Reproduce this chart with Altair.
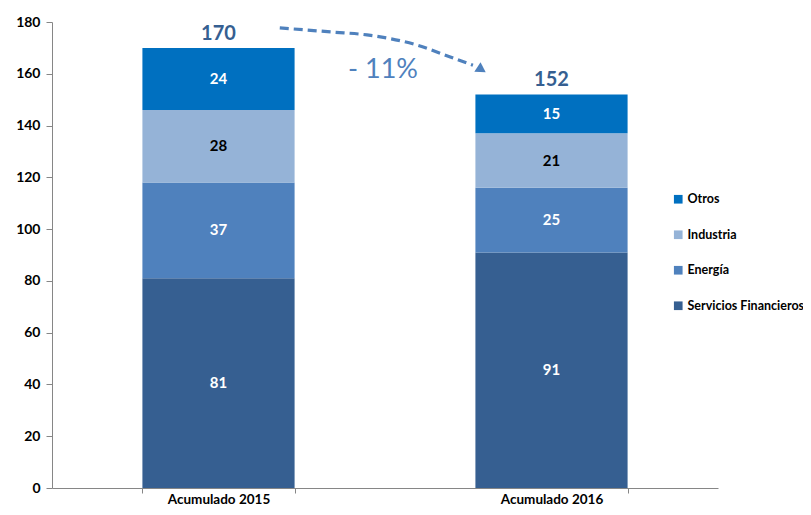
import altair as alt
import pandas as pd

categories = ["Acumulado 2015", "Acumulado 2016"]
sectors = ["Servicios Financieros", "Energía", "Industria", "Otros"]
values_2015 = [81, 37, 28, 24]
values_2016 = [91, 25, 21, 15]
totals = [170, 152]
colors = ["#0070C0", "#95B3D7", "#4F81BD", "#365F91"]  # Otros, Industria, Energía, SF
legend_order = ["Otros", "Industria", "Energía", "Servicios Financieros"]
label_colors = {"Servicios Financieros": "white", "Energía": "white", "Industria": "black", "Otros": "white"}

# annotation arrow (x as fraction of plot width, y in data units)
arrow_x = [0.342, 0.422, 0.473, 0.548, 0.598, 0.632]
arrow_y = [177.7, 176.1, 175.0, 171.1, 166.5, 163.3]
head_x = [0.645]
head_y = [161.6]
change_label = "- 11%"
change_x = [0.497]
change_y = [161.5]

rows = []
for cat, vals in zip(categories, [values_2015, values_2016]):
    for i, (s, v) in enumerate(zip(sectors, vals)):
        rows.append({"cat": cat, "sector": s, "value": v, "ord": i, "lc": label_colors[s]})
df = pd.DataFrame(rows)
tot_df = pd.DataFrame({"cat": categories, "total": totals})
arrow_df = pd.DataFrame({"fx": arrow_x, "fy": arrow_y, "i": range(len(arrow_x))})
head_df = pd.DataFrame({"fx": head_x, "fy": head_y})
lbl_df = pd.DataFrame({"fx": change_x, "fy": change_y, "t": [change_label]})

FONT = "Lato"

xscale = alt.Scale(domain=categories, paddingInner=0.543, paddingOuter=0.2715)
xaxis = alt.Axis(labelAngle=0, labelFont=FONT, labelFontWeight="bold", labelFontSize=13.5,
                 labelColor="black", labelPadding=-1, tickBand="extent", tickSize=5,
                 tickColor="#868686", domainColor="#868686", labelBaseline="top")
xenc = alt.X("cat:N", sort=categories, title=None, scale=xscale, axis=xaxis)
yscale = alt.Scale(domain=[0, 180], nice=False)

base = alt.Chart(df)
bars = base.mark_bar().encode(
    x=xenc,
    y=alt.Y("value:Q", stack="zero", scale=yscale, title=None,
            axis=alt.Axis(values=list(range(0, 181, 20)), grid=False, labelFont=FONT,
                          labelFontWeight="bold", labelFontSize=14, labelColor="black",
                          tickColor="#868686", domainColor="#868686", tickSize=6, labelPadding=6)),
    color=alt.Color("sector:N", scale=alt.Scale(domain=legend_order, range=colors),
                    legend=alt.Legend(title=None, orient="none", legendX=620, legendY=171,
                                      symbolType="square", symbolSize=75, symbolStrokeWidth=0,
                                      labelFont=FONT, labelFontWeight="bold", labelFontSize=12.5,
                                      labelColor="black", rowPadding=22.5, labelLimit=300,
                                      labelOffset=3)),
    order=alt.Order("ord:Q", sort="ascending"),
)

seg_text = base.transform_stack(
    stack="value", groupby=["cat"], as_=["y0", "y1"], sort=[alt.SortField("ord", order="ascending")]
).transform_calculate(mid="(datum.y0 + datum.y1) / 2").mark_text(
    font=FONT, fontWeight="bold", fontSize=15
).encode(
    x=xenc,
    y=alt.Y("mid:Q", scale=yscale),
    text="value:Q",
    color=alt.Color("lc:N", scale=None),
)

tot_text = alt.Chart(tot_df).mark_text(
    font=FONT, fontWeight="bold", fontSize=20, color="#365F91", dy=-14
).encode(
    x=xenc,
    y=alt.Y("total:Q", scale=yscale),
    text="total:Q",
)

fx_scale = alt.Scale(domain=[0, 1], nice=False, zero=False)
arrow = alt.Chart(arrow_df).mark_line(
    color="#4F81BD", strokeWidth=3.2, strokeDash=[9, 5], interpolate="monotone"
).encode(
    x=alt.X("fx:Q", scale=fx_scale, axis=None),
    y=alt.Y("fy:Q", scale=yscale),
    order="i:Q",
)
head = alt.Chart(head_df).mark_point(
    shape="triangle-right", filled=True, color="#4F81BD", size=130, angle=33, opacity=1
).encode(
    x=alt.X("fx:Q", scale=fx_scale, axis=None),
    y=alt.Y("fy:Q", scale=yscale),
)
change = alt.Chart(lbl_df).mark_text(
    font=FONT, fontSize=27, color="#4F81BD"
).encode(
    x=alt.X("fx:Q", scale=fx_scale, axis=None),
    y=alt.Y("fy:Q", scale=yscale),
    text="t:N",
)

bar_layer = alt.layer(bars, seg_text, tot_text)
annot_layer = alt.layer(arrow, head, change)

chart = alt.layer(bar_layer, annot_layer).resolve_scale(
    x="independent"
).properties(
    width=666, height=466,
    autosize="none",
    padding={"left": 44, "top": 14, "right": 85, "bottom": 17},
).configure_view(stroke=None)

chart.save("out.html", embed_options={"renderer": "svg", "actions": False})
